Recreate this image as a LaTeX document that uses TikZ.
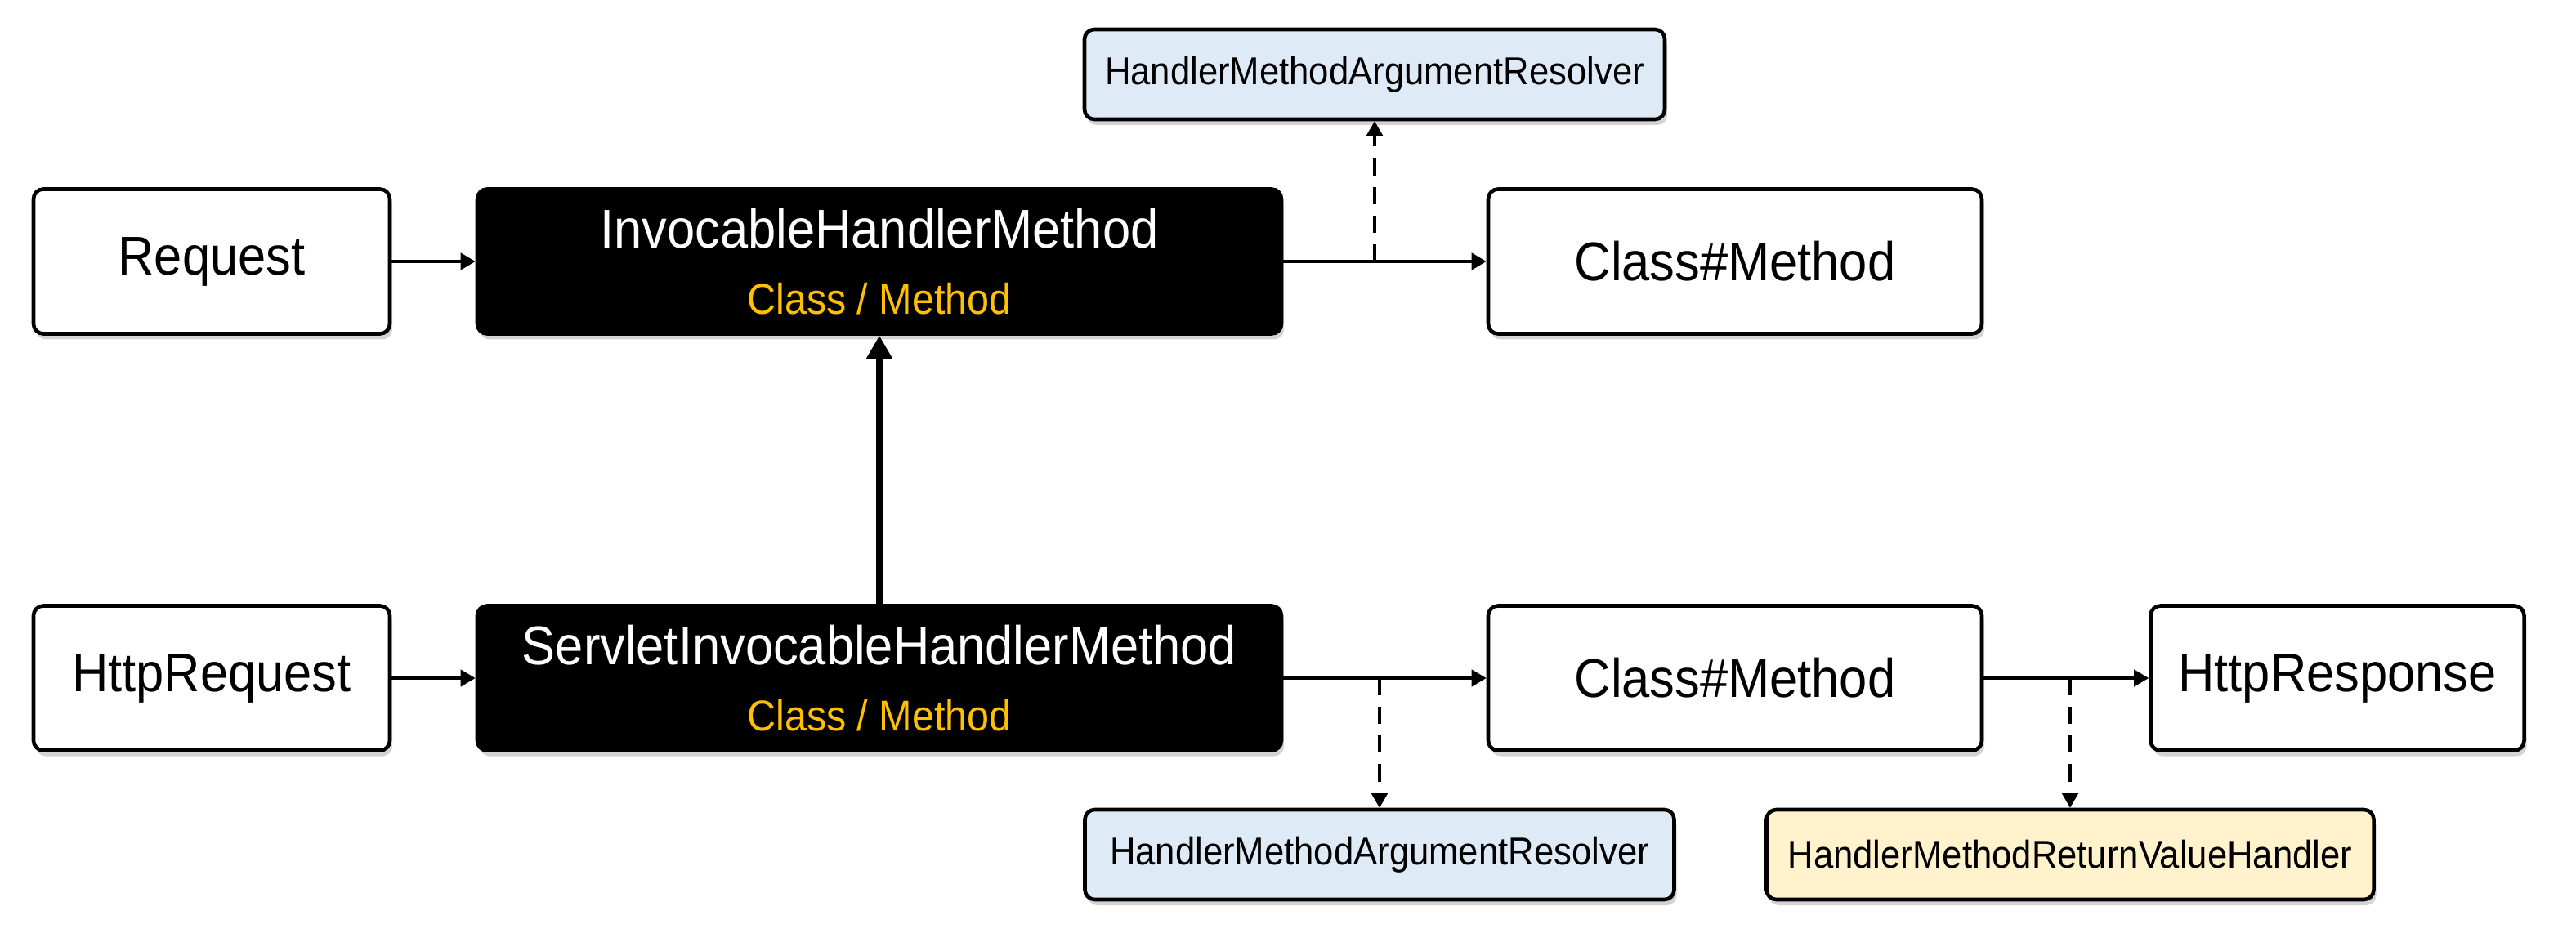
\documentclass[tikz,border=0pt]{standalone}
\usepackage{fontspec}
\setmainfont{Liberation Sans}[FakeStretch=0.92]
\usepackage{tikz}
\usetikzlibrary{arrows.meta, shapes, shadows}

\definecolor{argblue}{RGB}{222,234,246}
\definecolor{retyellow}{RGB}{255,242,204}
\definecolor{classgold}{RGB}{255,192,0}

\begin{document}
\begin{tikzpicture}
			\tikzstyle{every node} = [font = \fontsize{19}{23}\selectfont]
			\tikzstyle{box} = [draw, line width = 1.3pt, rounded corners = 0.12cm,
				fill = white, align = center, inner sep = 0pt,
				drop shadow = {shadow xshift = 0.03cm, shadow yshift = -0.07cm, opacity = 0.35},
				minimum height = 1.77cm]
			\tikzstyle{dark} = [box, fill = black, text = white]
			\tikzstyle{helper} = [box, minimum height = 1.1cm,
				font = \fontsize{13.5}{15}\selectfont]
			\tikzstyle{flow} = [draw, line width = 1.2pt, -{Triangle[length=0.18cm, width=0.2cm]}]
			\tikzstyle{uses} = [draw, line width = 0.9pt, dashed,
				dash pattern = on 6pt off 4pt, -{Triangle[length=0.18cm, width=0.2cm]}]
			\useasboundingbox (0,0) rectangle (31.52,-11.64);

				% upper row
				\node[box, minimum width = 4.36cm] (req) at (2.59,-3.20) {Request};
				\node[dark, minimum width = 9.84cm] (inv) at (10.76,-3.20)
					{InvocableHandlerMethod\\{\fontsize{15}{18}\selectfont\color{classgold}Class / Method}};
				\node[box, minimum width = 6.04cm] (cm1) at (21.23,-3.20) {Class\#Method};
				\node[helper, fill = argblue, minimum width = 7.10cm] (har1) at (16.82,-0.91)
					{HandlerMethodArgumentResolver};

				% lower row
				\node[box, minimum width = 4.36cm] (hreq) at (2.59,-8.30) {HttpRequest};
				\node[dark, minimum width = 9.84cm] (sinv) at (10.76,-8.30)
					{ServletInvocableHandlerMethod\\{\fontsize{15}{18}\selectfont\color{classgold}Class / Method}};
				\node[box, minimum width = 6.04cm] (cm2) at (21.23,-8.30) {Class\#Method};
				\node[box, minimum width = 4.57cm] (hres) at (28.60,-8.30) {HttpResponse};
				\node[helper, fill = argblue, minimum width = 7.21cm] (har2) at (16.88,-10.46)
					{HandlerMethodArgumentResolver};
				\node[helper, fill = retyellow, minimum width = 7.43cm] (rvh) at (25.33,-10.46)
					{HandlerMethodReturnValueHandler};

				\path[flow] (req) -- (inv);
				\path[flow] (inv) -- (cm1);
				\path[uses] (inv.east -| har1.south) -- (har1.south);
				\path[flow] (hreq) -- (sinv);
				\path[flow] (sinv) -- (cm2);
				\path[flow] (cm2) -- (hres);
				\path[uses] (sinv.east -| har2.north) -- (har2.north);
				\path[uses] (cm2.east -| rvh.north) -- (rvh.north);
				\path[draw, line width = 2pt, -{Triangle[length=0.28cm, width=0.3cm]}]
					(sinv) -- (inv);
			\end{tikzpicture}
\end{document}
